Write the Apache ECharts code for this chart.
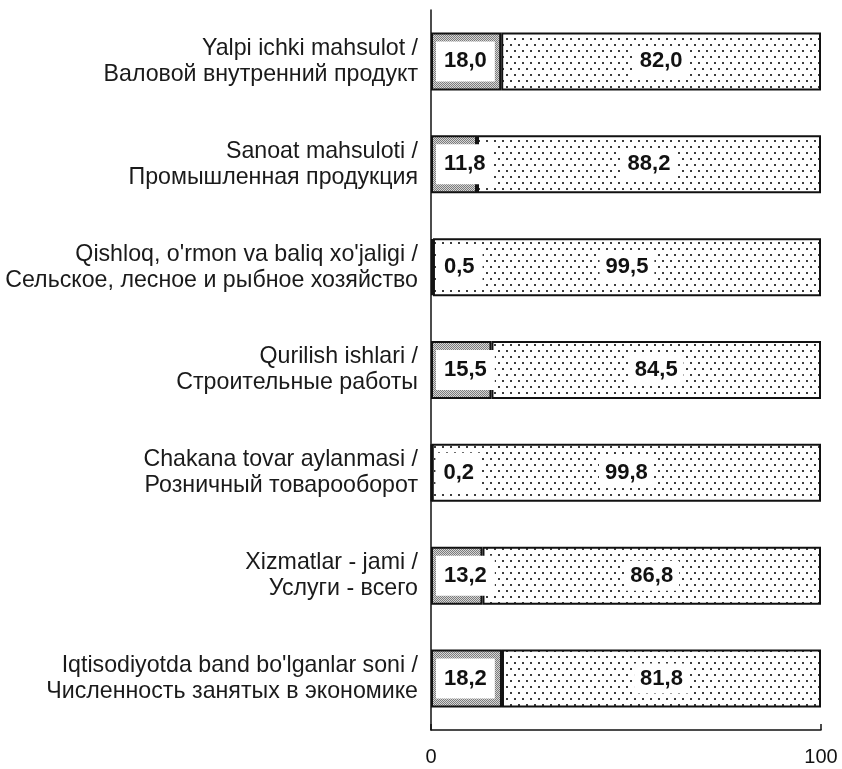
<!DOCTYPE html>
<html>
<head>
<meta charset="utf-8">
<script src="https://cdn.jsdelivr.net/npm/echarts@6/dist/echarts.min.js"></script>
<style>
  html, body { margin: 0; padding: 0; background: #fff; }
  #chart { width: 842px; height: 769px; }
</style>
</head>
<body>
<div id="chart"></div>
<script>
const categories = [
  'Yalpi ichki mahsulot /\nВаловой внутренний продукт',
  'Sanoat mahsuloti /\nПромышленная продукция',
  "Qishloq, o'rmon va baliq xo'jaligi /\nСельское, лесное и рыбное хозяйство",
  'Qurilish ishlari /\nСтроительные работы',
  'Chakana tovar aylanmasi /\nРозничный товарооборот',
  'Xizmatlar - jami /\nУслуги - всего',
  "Iqtisodiyotda band bo'lganlar soni /\nЧисленность занятых в экономике"
]
const partA = [18.0, 11.8, 0.5, 15.5, 0.2, 13.2, 18.2]
const partB = [82.0, 88.2, 99.5, 84.5, 99.8, 86.8, 81.8]
const xTicks = [0, 100]

// fine grey hatch for the first part
function hatchPattern() {
  const c = document.createElement('canvas')
  c.width = 2; c.height = 2
  const ctx = c.getContext('2d')
  ctx.fillStyle = '#d6d6d6'; ctx.fillRect(0, 0, 2, 2)
  ctx.fillStyle = '#7c7c7c'; ctx.fillRect(0, 0, 1, 1); ctx.fillRect(1, 1, 1, 1)
  return c
}

// light dotted fill for the rest
function dotPattern() {
  const c = document.createElement('canvas')
  c.width = 8; c.height = 12
  const ctx = c.getContext('2d')
  ctx.fillStyle = '#ffffff'; ctx.fillRect(0, 0, 8, 12)
  ctx.fillStyle = '#3c3c3c'
  ctx.fillRect(2, 2, 2, 2)
  ctx.fillRect(6, 8, 2, 2)
  return c
}

const fmt = v => v.toFixed(1).replace('.', ',')
const font = 'Liberation Sans'

const chart = echarts.init(document.getElementById('chart'), null, { renderer: 'canvas' })

chart.setOption({
  backgroundColor: '#ffffff',
  animation: false,
  grid: { left: 431, right: 21, top: 10, bottom: 39 },
  xAxis: {
    type: 'value',
    min: 0,
    max: 100,
    interval: 100,
    axisLine: { show: true, lineStyle: { color: '#111', width: 1.5 } },
    axisTick: { show: true, inside: true, length: 6, lineStyle: { color: '#111', width: 1.5 } },
    splitLine: { show: false },
    axisLabel: {
      color: '#111', fontFamily: font, fontSize: 20, margin: 17,
      formatter: v => xTicks.includes(v) ? String(v) : ''
    }
  },
  yAxis: {
    type: 'category',
    inverse: true,
    data: categories,
    axisLine: { show: true, lineStyle: { color: '#111', width: 1.5 } },
    axisTick: { show: false },
    axisLabel: {
      color: '#1a1a1a', fontFamily: font, fontSize: 23.2, lineHeight: 26,
      align: 'right', margin: 13, padding: [6, 0, 0, 0]
    }
  },
  series: [
    {
      type: 'bar',
      stack: 'total',
      barWidth: 58,
      data: partA,
      itemStyle: {
        color: { image: hatchPattern(), repeat: 'repeat' },
        borderColor: '#111',
        borderWidth: 2
      },
      label: {
        show: true,
        position: 'insideLeft',
        distance: 5,
        formatter: p => fmt(p.value),
        color: '#111',
        fontFamily: font,
        fontWeight: 'bold',
        fontSize: 22,
        backgroundColor: '#ffffff',
        padding: [9, 8]
      }
    },
    {
      type: 'bar',
      stack: 'total',
      barWidth: 58,
      data: partB,
      itemStyle: {
        color: { image: dotPattern(), repeat: 'repeat' },
        borderColor: '#111',
        borderWidth: 2
      },
      label: {
        show: true,
        position: 'inside',
        formatter: p => fmt(p.value),
        color: '#111',
        fontFamily: font,
        fontWeight: 'bold',
        fontSize: 22,
        backgroundColor: '#ffffff',
        padding: [4, 6]
      }
    }
  ]
})
</script>
</body>
</html>
